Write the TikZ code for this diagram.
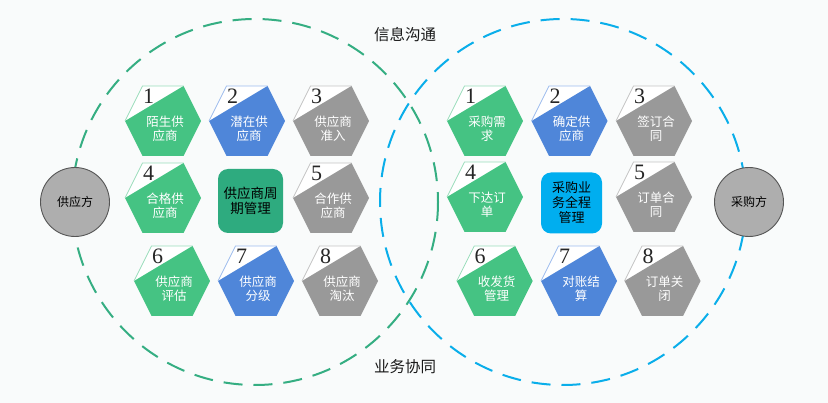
\documentclass[tikz,border=0pt]{standalone}
\usepackage{fontspec}
\setmainfont{Noto Sans CJK SC}
\newfontfamily\numfont{Liberation Serif}
\definecolor{bgc}{HTML}{F9FBFB}
\definecolor{hgreen}{HTML}{45C383}
\definecolor{lgreen}{HTML}{9ADDBB}
\definecolor{hblue}{HTML}{4F86D9}
\definecolor{lblue}{HTML}{9DBCEE}
\definecolor{hgray}{HTML}{999999}
\definecolor{lgray}{HTML}{C4C4C4}
\definecolor{rgreen}{HTML}{2EAB7F}
\definecolor{rcyan}{HTML}{00AEEF}
\definecolor{dgreen}{HTML}{35AE82}
\definecolor{dblue}{HTML}{0AAEEA}
\definecolor{cfill}{HTML}{AEAEAE}
\definecolor{cline}{HTML}{555555}
\tikzset{
  numtxt/.style={font=\numfont\fontsize{22}{22}\selectfont, text=black!85, inner sep=0pt},
  hextxt/.style={font=\fontsize{12.5}{14}\selectfont, text=white, align=center, inner sep=0pt},
  midbox/.style={draw=none, rounded corners=10pt, inner sep=0pt, align=center, text=black},
  party/.style={circle, fill=cfill, draw=cline, line width=0.9pt, minimum size=69pt, inner sep=0pt, font=\fontsize{12}{12}\selectfont, text=black},
  bigring/.style={line width=2pt, dash pattern=on 19pt off 11pt},
  toplabel/.style={font=\fontsize{15.5}{16}\selectfont, text=black!90, inner sep=0pt}
}
% #1 name, #2 cx, #3 cy, #4 fill, #5 edge colour, #6 number, #7 text
\newcommand\hexcell[7]{%
  \begin{scope}[shift={(#2,#3)}]
    \fill[white] (-20.5,-35) -- (20.5,-35) -- (-38,0) -- cycle;
    \fill[#4] (-38,0) -- (20.5,-35) -- (38,0) -- (20.5,35) -- (-20.5,35) -- cycle;
    \draw[#5, line width=0.8pt] (-38,0) -- (-20.5,-35) -- (20.5,-35);
    \node[numtxt] (#1n) at (-14.5,-25) {#6};
    \node[hextxt] (#1t) at (2,7.5) {#7};
  \end{scope}}
\begin{document}
\begin{tikzpicture}[x=1pt,y=-1pt]
  \fill[bgc] (0,0) rectangle (828,403);
  \useasboundingbox (0,0) rectangle (828,403);
  % rings
  \draw[bigring, dgreen] (255,202) circle[radius=183];
  \draw[bigring, dblue] (563,202) circle[radius=183];
  \node[toplabel] (info) at (405,35) {信息沟通};
  \node[toplabel] (biz) at (405,367) {业务协同};
  % left group
  \hexcell{L1}{163}{121}{hgreen}{lgreen}{1}{陌生供\\应商}
  \hexcell{L2}{247}{121}{hblue}{lblue}{2}{潜在供\\应商}
  \hexcell{L3}{331}{121}{hgray}{lgray}{3}{供应商\\准入}
  \hexcell{L4}{163}{198}{hgreen}{lgreen}{4}{合格供\\应商}
  \hexcell{L5}{331}{198}{hgray}{lgray}{5}{合作供\\应商}
  \hexcell{L6}{172}{281}{hgreen}{lgreen}{6}{供应商\\评估}
  \hexcell{L7}{256}{281}{hblue}{lblue}{7}{供应商\\分级}
  \hexcell{L8}{340}{281}{hgray}{lgray}{8}{供应商\\淘汰}
  \node[midbox, fill=rgreen, minimum width=65pt, minimum height=64pt,
        font=\fontsize{13.5}{15}\selectfont] (Lmid) at (250.5,201) {供应商周\\期管理};
  % right group
  \hexcell{R1}{485}{121}{hgreen}{lgreen}{1}{采购需\\求}
  \hexcell{R2}{569.5}{121}{hblue}{lblue}{2}{确定供\\应商}
  \hexcell{R3}{654}{121}{hgray}{lgray}{3}{签订合\\同}
  \hexcell{R4}{485}{197}{hgreen}{lgreen}{4}{下达订\\单}
  \hexcell{R5}{654}{197}{hgray}{lgray}{5}{订单合\\同}
  \hexcell{R6}{494.7}{281}{hgreen}{lgreen}{6}{收发货\\管理}
  \hexcell{R7}{579}{281}{hblue}{lblue}{7}{对账结\\算}
  \hexcell{R8}{662.5}{281}{hgray}{lgray}{8}{订单关\\闭}
  \node[midbox, fill=rcyan, minimum width=61pt, minimum height=61pt,
        font=\fontsize{13}{15}\selectfont] (Rmid) at (571.5,203) {采购业\\务全程\\管理};
  % parties
  \node[party] (sup) at (75,202) {供应方};
  \node[party] (buy) at (749,202) {采购方};
\end{tikzpicture}
\end{document}
